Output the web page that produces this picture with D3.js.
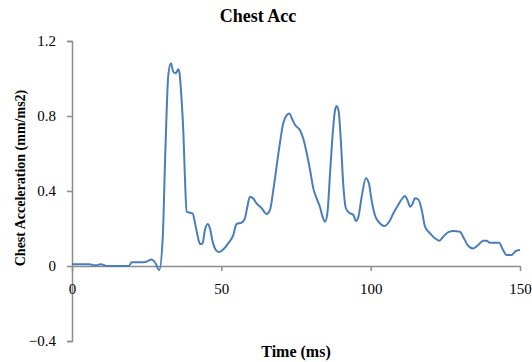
<!DOCTYPE html>
<html>
<head>
<meta charset="utf-8">
<script src="https://cdn.jsdelivr.net/npm/d3@7"></script>
<style>
    body { margin: 0; background: #fff; }
    svg text { font-family: "Liberation Serif", "DejaVu Serif", serif; }
</style>
</head>
<body>
<svg id="chart"></svg>
<script>
const width = 532;
const height = 362;

// time (ms) and chest acceleration (mm/ms2)
const timeMs = [0, 6, 7, 8.5, 9.5, 12, 19, 20, 24, 25.5, 26.5, 27.8, 29.2, 30.4, 31.1, 31.7, 32.2, 33.1,
    33.9, 34.7, 35.6, 36.0, 36.7, 37.3, 37.8, 38.4, 39.5, 40.4, 41.2, 42.0, 42.9, 43.7, 44.5, 45.4,
    46.2, 47.1, 48.2, 49.3, 50.7, 52.3, 54.0, 55.1, 56.8, 57.9, 58.7, 59.6, 60.7, 61.8, 63.5, 65.2,
    66.3, 67.4, 68.5, 69.6, 70.7, 71.9, 72.8, 73.6, 74.7, 76.3, 77.4, 78.6, 79.7, 80.8, 81.9, 83.0,
    83.9, 84.7, 85.5, 86.4, 87.3, 88.0, 88.6, 89.3, 90.0, 90.8, 91.7, 92.8, 94.2, 95.1, 95.9, 97.0,
    98.4, 99.4, 100.3, 101.4, 102.9, 104.5, 106.2, 107.6, 109.2, 110.4, 111.5, 112.3, 113.2, 114.1,
    114.8, 115.9, 117.1, 118.2, 119.9, 121.5, 123.0, 124.3, 126.0, 127.7, 129.9, 131.2, 132.7, 134.3,
    136.0, 137.7, 138.8, 139.9, 141.6, 143.0, 144.2, 145.5, 147.2, 148.6, 150];
const chestAcc = [0.01, 0.01, 0.004, 0.004, 0.01, 0.0, 0.0, 0.02, 0.02, 0.027, 0.035, 0.02, -0.022, 0.156, 0.53, 0.83, 1.01, 1.081,
    1.036, 1.028, 1.049, 1.028, 0.885, 0.708, 0.476, 0.29, 0.284, 0.28, 0.228, 0.165, 0.117, 0.12, 0.192, 0.224,
    0.2, 0.13, 0.085, 0.075, 0.089, 0.121, 0.165, 0.224, 0.231, 0.254, 0.316, 0.37, 0.36, 0.334, 0.308, 0.277,
    0.299, 0.405, 0.53, 0.654, 0.76, 0.805, 0.814, 0.788, 0.752, 0.725, 0.681, 0.601, 0.512, 0.414, 0.361, 0.316,
    0.263, 0.236, 0.281, 0.494, 0.708, 0.823, 0.853, 0.823, 0.672, 0.441, 0.308, 0.284, 0.272, 0.24, 0.263, 0.37,
    0.468, 0.441, 0.352, 0.272, 0.231, 0.213, 0.236, 0.281, 0.325, 0.356, 0.373, 0.352, 0.316, 0.334,
    0.361, 0.356, 0.299, 0.21, 0.174, 0.148, 0.135, 0.156, 0.181, 0.187, 0.183, 0.148, 0.107, 0.094,
    0.112, 0.135, 0.135, 0.124, 0.124, 0.124, 0.089, 0.059, 0.059, 0.08, 0.085];
const xTicks = [0, 50, 100, 150];
const yTicks = [-0.4, 0, 0.4, 0.8, 1.2];

const data = timeMs.map((t, i) => ({t: t, v: chestAcc[i]}));

const svg = d3.select("#chart")
    .attr("width", width)
    .attr("height", height);

const x = d3.scaleLinear().domain([0, 150]).range([72, 520]);
const y = d3.scaleLinear().domain([-0.4, 1.2]).range([341, 41]);

const axisColor = "#8c8c8c";

// y axis
const yAxis_g = svg.append("g")
    .attr("transform", `translate(${x(0)}, 0)`)
    .call(d3.axisLeft(y).tickValues(yTicks).tickSize(5).tickPadding(11)
        .tickFormat(d => d === 0 ? "0" : d3.format(".1f")(d)));
yAxis_g.select(".domain").attr("stroke", axisColor).attr("stroke-width", 1.5);
yAxis_g.selectAll(".tick line").attr("stroke", axisColor).attr("stroke-width", 1.5);
yAxis_g.selectAll(".tick text")
    .attr("font-size", 15)
    .attr("fill", "#000")
    .style("font-family", "'Liberation Serif', serif");

// x axis sits on y = 0
const xAxis_g = svg.append("g")
    .attr("transform", `translate(0, ${y(0)})`)
    .call(d3.axisBottom(x).tickValues(xTicks).tickSize(5).tickSizeOuter(0).tickPadding(12));
xAxis_g.select(".domain").attr("stroke", axisColor).attr("stroke-width", 1.5);
xAxis_g.selectAll(".tick line").attr("stroke", axisColor).attr("stroke-width", 1.5);
xAxis_g.selectAll(".tick text")
    .attr("font-size", 15)
    .attr("fill", "#000")
    .style("font-family", "'Liberation Serif', serif");

// series line
const lineMaker = d3.line()
    .curve(d3.curveMonotoneX)
    .x(d => x(d.t))
    .y(d => y(d.v));

svg.append("path")
    .datum(data)
    .attr("d", lineMaker)
    .attr("fill", "none")
    .attr("stroke", "#4a7ebb")
    .attr("stroke-width", 2)
    .attr("stroke-linejoin", "round");

// titles
svg.append("text")
    .attr("x", 258)
    .attr("y", 22)
    .attr("text-anchor", "middle")
    .attr("font-size", 18)
    .attr("font-weight", "bold")
    .text("Chest Acc");

svg.append("text")
    .attr("x", 296)
    .attr("y", 357)
    .attr("text-anchor", "middle")
    .attr("font-size", 16)
    .attr("font-weight", "bold")
    .text("Time (ms)");

svg.append("text")
    .attr("transform", "translate(25, 178) rotate(-90)")
    .attr("text-anchor", "middle")
    .attr("font-size", 14)
    .attr("font-weight", "bold")
    .text("Chest Acceleration (mm/ms2)");
</script>
</body>
</html>
